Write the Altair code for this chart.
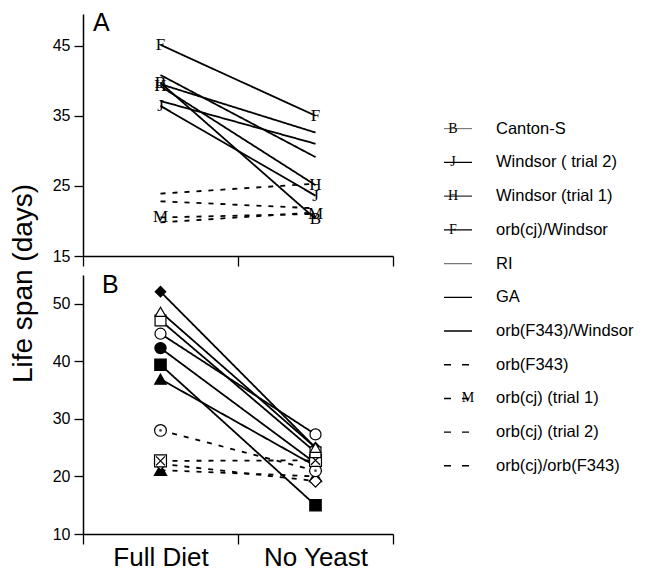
import altair as alt
import pandas as pd

# ---------------- data ----------------
diets = ["Full Diet", "No Yeast"]

strains = ["Canton-S", "Windsor ( trial 2)", "Windsor (trial 1)", "orb(cj)/Windsor",
           "RI", "GA", "orb(F343)/Windsor", "orb(F343)", "orb(cj) (trial 1)",
           "orb(cj) (trial 2)", "orb(cj)/orb(F343)"]
kinds = ["solid"] * 7 + ["dashed"] * 4

# Panel A (life span, days)
a_full = [39.7, 36.4, 39.2, 45.1, 37.1, 39.5, 40.8, 23.9, 20.5, 22.8, 19.8]
a_noyeast = [20.3, 23.6, 25.1, 35.0, 31.0, 32.6, 29.1, 25.3, 21.0, 21.8, 21.2]
a_letter = ["B", "J", "H", "F", "", "", "", "", "M", "", ""]

# Panel B (life span, days)
b_full = [52.1, 48.6, 47.1, 44.8, 42.3, 39.4, 36.9, 28.0, 22.7, 22.2, 21.1]
b_noyeast = [25.0, 25.0, 24.2, 27.3, 22.3, 15.0, 21.8, 21.0, 22.8, 19.2, 20.0]
b_marker = ["diamond_f", "triangle_o", "square_o", "circle_o", "circle_f", "square_f",
            "triangle_f", "circle_dot", "square_x", "diamond_o", "triangle_s"]

# ---------------- styles ----------------
marker_dom = ["diamond_f", "triangle_o", "square_o", "circle_o", "circle_f", "square_f",
              "triangle_f", "circle_dot", "square_x", "diamond_o", "triangle_s"]
marker_shape = ["diamond", "triangle-up", "square", "circle", "circle", "square",
                "triangle-up", "circle", "M-1,-1L1,-1L1,1L-1,1Z M-0.75,-0.75L0.75,0.75 M-0.75,0.75L0.75,-0.75",
                "diamond", "triangle-up"]
marker_fill = ["black", "white", "white", "white", "black", "black",
               "black", "white", "white", "white", "black"]
marker_size = [110, 150, 120, 120, 120, 110, 120, 110, 90, 60, 50]
marker_z = [5, 8, 7, 9, 4, 10, 3, 6, 6, 2, 1]

leg_color = ["#666666", "black", "#333333", "black", "#777777", "black", "black",
             "black", "black", "black", "black"]
leg_width = [1.0, 1.5, 1.2, 1.3, 1.0, 2.2, 1.7, 1.5, 1.5, 1.5, 1.5]

FONT = "Liberation Sans"

# ---------------- frames ----------------
rows_a, rows_b = [], []
for i, s in enumerate(strains):
    for d, va, vb in ((diets[0], a_full[i], b_full[i]), (diets[1], a_noyeast[i], b_noyeast[i])):
        rows_a.append({"strain": s, "diet": d, "value": va, "kind": kinds[i], "letter": a_letter[i]})
        rows_b.append({"strain": s, "diet": d, "value": vb, "kind": kinds[i], "mk": b_marker[i],
                       "z": marker_z[i]})
dfA = pd.DataFrame(rows_a)
dfB = pd.DataFrame(rows_b)
dfL = pd.DataFrame({"idx": list(range(len(strains))), "name": strains, "kind": kinds,
                    "letter": a_letter})


def xenc(labels):
    return alt.X("diet:N",
                 scale=alt.Scale(type="band", domain=diets, paddingInner=0, paddingOuter=0),
                 axis=alt.Axis(title=None, labels=labels, tickBand="extent", tickSize=10,
                               tickColor="black", tickWidth=1.3, domainColor="black",
                               domainWidth=1.5, labelFont=FONT, labelFontSize=26,
                               labelColor="black", labelPadding=0, labelAngle=0))


def yenc(domain, values, title=None, **kw):
    return alt.Y("value:Q",
                 scale=alt.Scale(domain=domain, nice=False, zero=False),
                 axis=alt.Axis(values=values, title=title, tickSize=9, tickColor="black",
                               tickWidth=1.3, domainColor="black", domainWidth=1.5,
                               labelFont=FONT, labelFontSize=16, labelColor="black",
                               labelPadding=4, **kw))


dash_scale = alt.Scale(domain=["solid", "dashed"], range=[[1, 0], [5, 7]])

# ---------------- panel A ----------------
xa = xenc(False)
ya = yenc([15, 49.5], [15, 25, 35, 45])
linesA = alt.Chart(dfA).mark_line(color="black", strokeWidth=1.8).encode(
    x=xa, y=ya, detail="strain:N",
    strokeDash=alt.StrokeDash("kind:N", scale=dash_scale, legend=None))
lettersA = alt.Chart(dfA).transform_filter("datum.letter != ''").mark_text(
    font="Liberation Serif", fontSize=17, color="black").encode(x=xa, y=ya, text="letter:N")
tagA = alt.Chart(pd.DataFrame({"t": ["A"]})).mark_text(
    font=FONT, fontSize=25, align="left", baseline="alphabetic", color="black").encode(
    x=alt.value(10), y=alt.value(17), text="t:N")
panelA = alt.layer(linesA, lettersA, tagA).properties(width=310, height=242)

# ---------------- panel B ----------------
xb = xenc(True)
yb = yenc([10, 55], [10, 20, 30, 40, 50], title="Life span (days)",
          titleFont=FONT, titleFontSize=28, titleFontWeight="normal", titleColor="black",
          titleAngle=270, titleX=-60, titleY=8, titleAlign="center", titleBaseline="middle")
linesB = alt.Chart(dfB).mark_line(color="black", strokeWidth=1.8).encode(
    x=xb, y=yb, detail="strain:N",
    strokeDash=alt.StrokeDash("kind:N", scale=dash_scale, legend=None))
pointsB = alt.Chart(dfB).mark_point(filled=True, stroke="black", strokeWidth=1.2, opacity=1).encode(
    x=xb, y=yb,
    shape=alt.Shape("mk:N", scale=alt.Scale(domain=marker_dom, range=marker_shape), legend=None),
    fill=alt.Fill("mk:N", scale=alt.Scale(domain=marker_dom, range=marker_fill), legend=None),
    size=alt.Size("mk:N", scale=alt.Scale(domain=marker_dom, range=marker_size), legend=None),
    order=alt.Order("z:Q"))
dotB = alt.Chart(dfB).transform_filter("datum.mk == 'circle_dot'").mark_point(
    filled=True, color="black", size=8, shape="circle").encode(x=xb, y=yb)
tagB = alt.Chart(pd.DataFrame({"t": ["B"]})).mark_text(
    font=FONT, fontSize=25, align="left", baseline="alphabetic", color="black").encode(
    x=alt.value(19), y=alt.value(18), text="t:N")
panelB = alt.layer(linesB, pointsB, dotB, tagB).properties(width=310, height=259)

# ---------------- legend ----------------
yl = alt.Y("idx:Q", scale=alt.Scale(domain=[-3.40, 12.05], nice=False, zero=False, reverse=True),
           axis=None)
leg_lines = alt.Chart(dfL).mark_rule().encode(
    x=alt.value(50), x2=alt.value(78), y=yl,
    color=alt.Color("name:N", scale=alt.Scale(domain=strains, range=leg_color), legend=None),
    strokeWidth=alt.StrokeWidth("name:N", scale=alt.Scale(domain=strains, range=leg_width), legend=None),
    strokeDash=alt.StrokeDash("kind:N", scale=alt.Scale(domain=["solid", "dashed"], range=[[1, 0], [7, 11]]), legend=None))
leg_letters = alt.Chart(dfL).transform_filter("datum.letter != '' && datum.letter != 'M'").mark_text(
    font="Liberation Serif", fontSize=14, color="black").encode(x=alt.value(59), y=yl, text="letter:N")
leg_m = alt.Chart(dfL).transform_filter("datum.letter == 'M'").mark_text(
    font="Liberation Serif", fontSize=14, color="black").encode(x=alt.value(74), y=yl, text="letter:N")
leg_text = alt.Chart(dfL).mark_text(font=FONT, fontSize=16.5, align="left", baseline="middle",
                                    color="black").encode(x=alt.value(102), y=yl, text="name:N")
legend = alt.layer(leg_lines, leg_letters, leg_m, leg_text).properties(width=236, height=521)

left = alt.vconcat(panelA, panelB, spacing=19, bounds="flush").resolve_scale(
    x="independent", y="independent")
chart = alt.hconcat(left, legend, spacing=0, bounds="full").resolve_scale(
    y="independent", color="independent", strokeDash="independent", strokeWidth="independent"
).properties(padding={"left": 0, "top": 3, "right": 0, "bottom": 0}).configure_view(
    stroke=None).configure_axis(grid=False)

chart.save("out.html", embed_options={"renderer": "svg", "actions": False})
